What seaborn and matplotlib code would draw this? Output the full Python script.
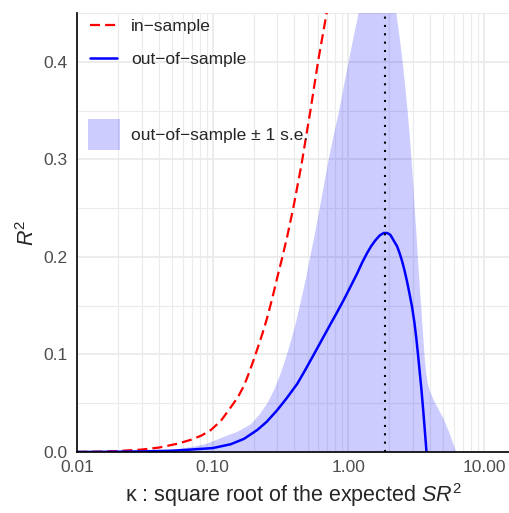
import matplotlib
matplotlib.use("Agg")
import matplotlib.pyplot as plt
import matplotlib.ticker as mticker
from matplotlib.lines import Line2D
from matplotlib.patches import Patch
import seaborn as sns

# in-sample R^2 (dashed red)
kappa_in = [0.01, 0.015, 0.02, 0.03, 0.04, 0.055, 0.069, 0.083, 0.097, 0.115, 0.136,
            0.153, 0.17, 0.185, 0.201, 0.216, 0.232, 0.25, 0.267, 0.283, 0.299, 0.325,
            0.354, 0.392, 0.45, 0.526, 0.6, 0.697, 0.8]
r2_in = [0.0001, 0.0004, 0.001, 0.0025, 0.0045, 0.0085, 0.0125, 0.017, 0.0226, 0.032,
         0.046, 0.056, 0.068, 0.081, 0.095, 0.108, 0.121, 0.136, 0.151, 0.165, 0.179,
         0.199, 0.221, 0.250, 0.294, 0.351, 0.402, 0.453, 0.51]

# out-of-sample R^2 (solid blue)
kappa_out = [0.01, 0.02, 0.03, 0.05, 0.069, 0.1, 0.136, 0.17, 0.213, 0.25, 0.299, 0.35,
             0.42, 0.48, 0.556, 0.64, 0.737, 0.83, 0.924, 1.04, 1.159, 1.26, 1.373, 1.47,
             1.58, 1.7, 1.82, 1.93, 2.04, 2.15, 2.28, 2.38, 2.48, 2.59, 2.70, 2.82, 2.94,
             3.06, 3.16, 3.26, 3.35, 3.45, 3.54, 3.64, 3.75, 3.8]
r2_out = [0.0, 0.0003, 0.0006, 0.0013, 0.0025, 0.004, 0.008, 0.0135, 0.0226, 0.031, 0.043,
          0.055, 0.070, 0.084, 0.100, 0.1155, 0.131, 0.144, 0.156, 0.170, 0.183, 0.194,
          0.204, 0.211, 0.217, 0.222, 0.2245, 0.2245, 0.2225, 0.217, 0.211, 0.204, 0.196,
          0.186, 0.175, 0.162, 0.149, 0.133, 0.117, 0.099, 0.082, 0.064, 0.046, 0.025,
          0.002, -0.01]

# upper edge of the out-of-sample +/- 1 s.e. band (lower edge is below zero)
kappa_se = [0.01, 0.02, 0.03, 0.041, 0.055, 0.069, 0.09, 0.125, 0.15, 0.19, 0.22, 0.252,
            0.285, 0.316, 0.345, 0.375, 0.41, 0.444, 0.485, 0.526, 0.565, 0.605, 0.66,
            0.72, 0.78, 0.85, 0.93, 1.0, 1.09, 1.19, 1.35, 1.6, 1.85, 2.05, 2.22, 2.35,
            2.48, 2.59, 2.70, 2.80, 2.89, 2.98, 3.06, 3.15, 3.23, 3.32, 3.42, 3.52, 3.62,
            3.72, 3.82, 3.95, 4.2, 4.5, 5.0, 5.5, 6.12, 6.2]
r2_se_hi = [0.0, 0.0005, 0.001, 0.002, 0.0035, 0.0055, 0.009, 0.017, 0.021, 0.029, 0.039,
            0.051, 0.066, 0.082, 0.098, 0.115, 0.135, 0.156, 0.18, 0.205, 0.226, 0.248,
            0.277, 0.305, 0.328, 0.351, 0.38, 0.402, 0.428, 0.453, 0.49, 0.52, 0.52, 0.49,
            0.453, 0.428, 0.402, 0.377, 0.351, 0.326, 0.30, 0.274, 0.248, 0.222, 0.197,
            0.171, 0.146, 0.12, 0.096, 0.08, 0.07, 0.063, 0.054, 0.046, 0.034, 0.02,
            0.002, 0.0]
r2_se_lo = [0.0] * len(kappa_se)

kappa_opt = 1.87

x_ticks = [0.01, 0.1, 1, 10]
x_tick_labels = ["0.01", "0.10", "1.00", "10.00"]
y_ticks = [0.0, 0.1, 0.2, 0.3, 0.4]
y_tick_labels = ["0.0", "0.1", "0.2", "0.3", "0.4"]

sns.set_theme(style="whitegrid")
plt.rcParams["font.family"] = ["Liberation Sans", "DejaVu Sans"]
plt.rcParams["mathtext.fontset"] = "custom"
plt.rcParams["mathtext.rm"] = "Liberation Sans"
plt.rcParams["mathtext.it"] = "Liberation Sans:italic"

fig = plt.figure(figsize=(5.1, 5.13), dpi=100)
ax = fig.add_axes([77 / 510, 1 - 452 / 513, 1 - 77 / 510, (452 - 13) / 513])
ax.set_xscale("log")

in_dash = (0, (4.5, 2.3))
ax.fill_between(kappa_se, r2_se_lo, r2_se_hi, color="blue", alpha=0.2, lw=0, zorder=2)
sns.lineplot(x=kappa_in, y=r2_in, ax=ax, color="red", lw=1.6,
             linestyle=in_dash, sort=False, zorder=3)
sns.lineplot(x=kappa_out, y=r2_out, ax=ax, color="blue", lw=1.8, sort=False, zorder=3)
ax.axvline(kappa_opt, color="black", lw=1.5, linestyle=(0, (1, 3)), zorder=4)

ax.set_xlim(0.01, 15.5)
ax.set_ylim(0, 0.45)
ax.set_xticks(x_ticks)
ax.set_xticklabels(x_tick_labels)
ax.xaxis.set_minor_locator(mticker.LogLocator(base=10, subs=range(2, 10), numticks=20))
ax.xaxis.set_minor_formatter(mticker.NullFormatter())
ax.set_yticks(y_ticks)
ax.set_yticklabels(y_tick_labels)
ax.yaxis.set_minor_locator(mticker.MultipleLocator(0.05))

ax.set_axisbelow(True)
ax.grid(which="major", color="#EBEBEB", lw=1.3)
ax.grid(which="minor", color="#EBEBEB", lw=0.8)
ax.tick_params(which="both", length=0, labelsize=12.5, labelcolor="#4D4D4D")
ax.tick_params(axis="y", pad=7)
ax.tick_params(axis="x", pad=6)

for side in ["top", "right"]:
    ax.spines[side].set_visible(False)
for side in ["left", "bottom"]:
    ax.spines[side].set_color("black")
    ax.spines[side].set_linewidth(1.2)
    ax.spines[side].set_zorder(5)

ax.set_xlabel("\u03ba : square root of the expected $SR^2$", fontsize=15.5, labelpad=4)
ax.set_ylabel(r"$R^2$", fontsize=15.5, labelpad=3)

line_handles = [
    Line2D([], [], color="red", lw=1.6, linestyle=in_dash),
    Line2D([], [], color="blue", lw=1.8),
]
leg1 = ax.legend(line_handles, ["in\u2212sample", "out\u2212of\u2212sample"],
                 loc="upper left", bbox_to_anchor=(90 / 510, 1 - 19 / 513),
                 bbox_transform=fig.transFigure, frameon=False, fontsize=12.5,
                 borderpad=0, borderaxespad=0, handlelength=1.55, handletextpad=0.8,
                 labelspacing=1.0)
ax.add_artist(leg1)
ax.legend([Patch(facecolor="blue", alpha=0.2, lw=0)], ["out\u2212of\u2212sample \u00b1 1 s.e."],
          loc="upper left", bbox_to_anchor=(88 / 510, 1 - 119 / 513),
          bbox_transform=fig.transFigure, frameon=False, fontsize=12.5,
          borderpad=0, borderaxespad=0, handlelength=1.85, handleheight=2.4,
          handletextpad=0.63)

fig.savefig("out.png", dpi=100)
